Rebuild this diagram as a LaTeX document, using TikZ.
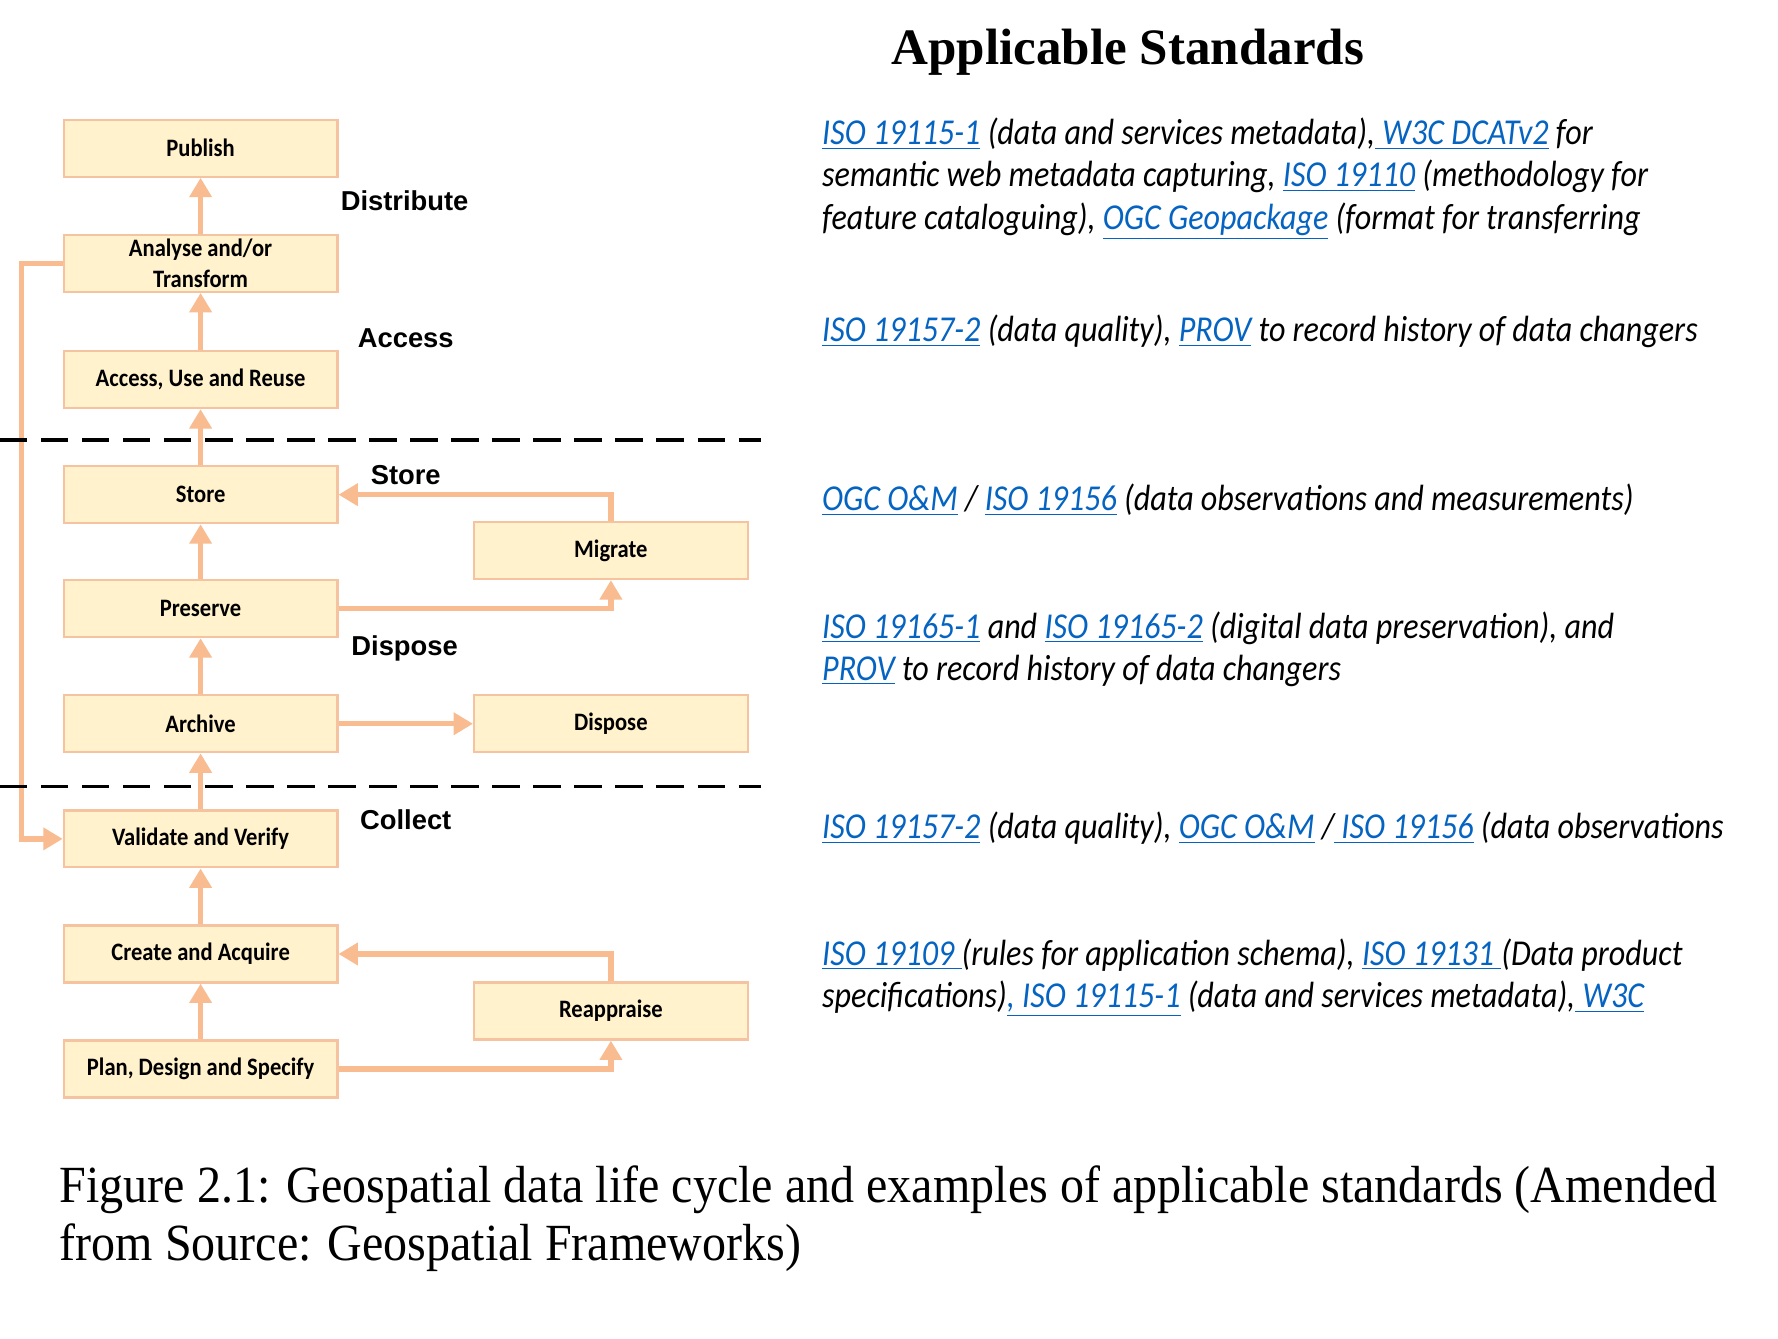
\documentclass[tikz,border=0pt]{standalone}
\usepackage{fontspec}
\setmainfont{Liberation Serif}
\newfontfamily\capfont[FakeStretch=0.92]{Liberation Serif}
\newfontfamily\stdfont[FakeStretch=0.88]{Carlito}
\newfontfamily\boxfont[FakeStretch=0.9]{Carlito}
\newfontfamily\phasefont{Liberation Sans}
\usetikzlibrary{arrows.meta}
\definecolor{boxfill}{HTML}{FFF2CC}
\definecolor{boxline}{HTML}{F6C3A0}
\definecolor{flowcol}{HTML}{F8BC90}
\definecolor{linkblue}{HTML}{0563C1}
\newcommand{\lnk}[1]{\textcolor{linkblue}{\underline{#1}}}

\begin{document}
\begin{tikzpicture}
  [x=0.5pt,y=-0.5pt,
   stage/.style={rectangle,draw=boxline,line width=1pt,fill=boxfill,minimum width=120pt,minimum height=25pt,inner sep=0pt,font=\boxfont\bfseries\fontsize{11}{14}\selectfont},
   phase/.style={font=\phasefont\bfseries\fontsize{12}{14}\selectfont},
   flow/.style={draw=flowcol,line width=2.4pt,-{Triangle[width=9.5pt,length=8.5pt]}},
   cut/.style={line width=1.5pt,dash pattern=on 12pt off 6pt},
   std/.style={anchor=base west,align=left,inner sep=0pt,font=\stdfont\itshape\fontsize{16}{18.5}\selectfont}]
  \useasboundingbox (0,0) rectangle (1560,1174);

  \node[anchor=base west,inner sep=0pt,font=\bfseries\fontsize{22.4}{26}\selectfont] (title) at (782,57) {Applicable Standards};

  % life cycle
  \node[stage] (publish) at (176,130) {Publish};
  \node[stage,align=center] (analyse) at (176,231) {Analyse and/or\\Transform};
  \node[stage] (access) at (176,333) {Access, Use and Reuse};
  \node[stage] (store) at (176,434) {Store};
  \node[stage] (migrate) at (536,483) {Migrate};
  \node[stage] (preserve) at (176,534) {Preserve};
  \node[stage] (archive) at (176,635) {Archive};
  \node[stage] (dispose) at (536,635) {Dispose};
  \node[stage] (validate) at (176,736) {Validate and Verify};
  \node[stage] (create) at (176,837) {Create and Acquire};
  \node[stage] (reappraise) at (536,887) {Reappraise};
  \node[stage] (plan) at (176,938) {Plan, Design and Specify};

  \node[phase] (pDistribute) at (355,176) {Distribute};
  \node[phase] (pAccess) at (356,297) {Access};
  \node[phase] (pStore) at (356,417) {Store};
  \node[phase] (pDispose) at (355,569) {Dispose};
  \node[phase] (pCollect) at (356,719) {Collect};

  \foreach \from/\to in {analyse/publish,access/analyse,store/access,preserve/store,archive/preserve,validate/archive,create/validate,plan/create}
    \draw[flow] (\from) -- (\to);
  \draw[flow] (migrate.north) |- (store.east);
  \draw[flow] (preserve.east) -| (migrate.south);
  \draw[flow] (archive) -- (dispose);
  \draw[flow] (reappraise.north) |- (create.east);
  \draw[flow] (plan.east) -| (reappraise.south);
  \draw[flow] (analyse.west) -- ++(-36,0) |- (validate.west);

  \draw[cut] (0,386) -- (668,386);
  \draw[cut] (0,690) -- (668,690);

  % standards (base = last line)
  \node[std] (iso1) at (721,201) {\lnk{ISO 19115-1} (data and services metadata),\lnk{ W3C DCATv2} for\\semantic web metadata capturing, \lnk{ISO 19110} (methodology for\\feature cataloguing), \lnk{OGC Geopackage} (format for transferring};
  \node[std] (iso2) at (721,300) {\lnk{ISO 19157-2} (data quality), \lnk{PROV} to record history of data changers};
  \node[std] (iso3) at (721,448) {\lnk{OGC O\&M} / \lnk{ISO 19156} (data observations and measurements)};
  \node[std] (iso4) at (721,597) {\lnk{ISO 19165-1} and \lnk{ISO 19165-2} (digital data preservation), and\\\lnk{PROV} to record history of data changers};
  \node[std] (iso5) at (721,736) {\lnk{ISO 19157-2} (data quality), \lnk{OGC O\&M} /\lnk{ ISO 19156} (data observations};
  \node[std] (iso6) at (721,884) {\lnk{ISO 19109 }(rules for application schema), \lnk{ISO 19131 }(Data product\\specifications)\lnk{, ISO 19115-1} (data and services metadata),\lnk{ W3C}};

  \node[anchor=base west,align=left,inner sep=0pt,font=\capfont\fontsize{22.9}{25.5}\selectfont] (caption) at (52,1106) {Figure 2.1: Geospatial data life cycle and examples of applicable standards (Amended\\from Source: Geospatial Frameworks)};
\end{tikzpicture}
\end{document}
